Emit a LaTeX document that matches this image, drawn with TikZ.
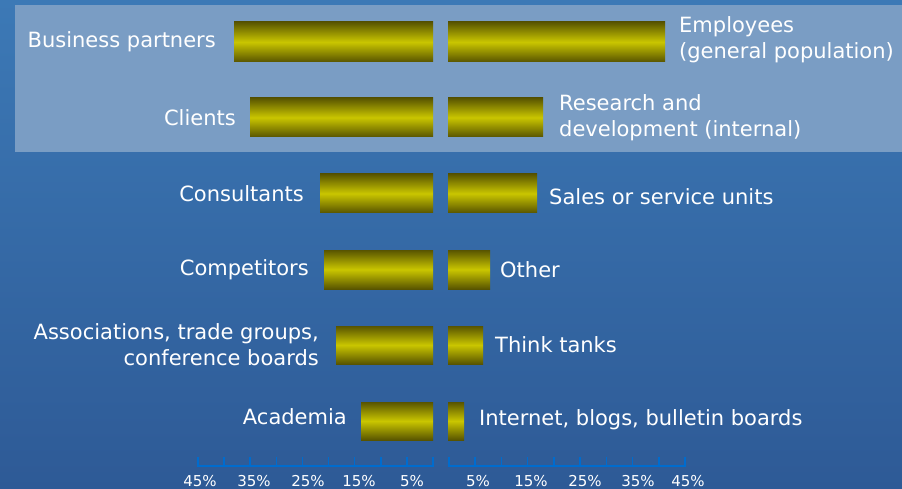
\documentclass[tikz,border=0pt]{standalone}
\usepackage{fontspec}
\setmainfont{DejaVu Sans}
\usetikzlibrary{positioning}
\definecolor{bgtop}{RGB}{60,121,182}
\definecolor{bgbot}{RGB}{46,90,150}
\definecolor{panel}{RGB}{122,157,196}
\definecolor{bardark}{RGB}{88,84,0}
\definecolor{barmid}{RGB}{202,198,0}
\definecolor{axisblue}{RGB}{0,108,206}
\begin{document}
\begin{tikzpicture}[x=1pt,y=-1pt,
  bar/.style={inner sep=0pt, outer sep=0pt, top color=bardark, bottom color=bardark, middle color=barmid, minimum height=39pt},
  lbar/.style={bar, anchor=east},
  rbar/.style={bar, anchor=west},
  lab/.style={text=white, font=\fontsize{21}{26}\selectfont, inner sep=0pt},
  llab/.style={lab, anchor=east, align=right},
  rlab/.style={lab, anchor=west, align=left},
  ticklab/.style={text=white, font=\fontsize{15}{17}\selectfont, inner sep=0pt},
  axisline/.style={draw=axisblue, line width=2.4pt},
  tickline/.style={draw=axisblue, line width=1.6pt}]
\useasboundingbox (0,0) rectangle (902,489);
\shade[top color=bgtop, bottom color=bgbot] (0,0) rectangle (902,489);
\fill[panel] (15,5) rectangle (902,152);
% bars
\node[lbar, minimum width=199pt, minimum height=40pt] (l1) at (433,42) {};
\node[rbar, minimum width=217pt, minimum height=40pt] (r1) at (448,42) {};
\node[lbar, minimum width=183pt] (l2) at (433,117.5) {};
\node[rbar, minimum width=95pt] (r2) at (448,117.5) {};
\node[lbar, minimum width=113pt] (l3) at (433,193.5) {};
\node[rbar, minimum width=89pt] (r3) at (448,193.5) {};
\node[lbar, minimum width=109pt] (l4) at (433,269.5) {};
\node[rbar, minimum width=42pt] (r4) at (448,269.5) {};
\node[lbar, minimum width=97pt, minimum height=38pt] (l5) at (433,345) {};
\node[rbar, minimum width=35pt, minimum height=38pt] (r5) at (448,345) {};
\node[lbar, minimum width=72pt, minimum height=38pt] (l6) at (433,421) {};
\node[rbar, minimum width=16pt, minimum height=38pt] (r6) at (448,421) {};
% labels (yshift is in page direction: positive = up)
\node[llab] (tl1) at ([xshift=-18pt]l1.west) {Business partners};
\node[llab] (tl2) at ([xshift=-14pt]l2.west) {Clients};
\node[llab] (tl3) at ([xshift=-16pt]l3.west) {Consultants};
\node[llab] (tl4) at ([xshift=-15pt]l4.west) {Competitors};
\node[llab] (tl5) at ([xshift=-17pt]l5.west) {Associations, trade groups,\\conference boards};
\node[llab] (tl6) at ([xshift=-14pt,yshift=4pt]l6.west) {Academia};
\node[rlab] (tr1) at ([xshift=14pt,yshift=2pt]r1.east) {Employees\\(general population)};
\node[rlab] (tr2) at ([xshift=16pt]r2.east) {Research and\\development (internal)};
\node[rlab] (tr3) at ([xshift=12pt,yshift=-3.5pt]r3.east) {Sales or service units};
\node[rlab] (tr4) at ([xshift=10pt]r4.east) {Other};
\node[rlab] (tr5) at ([xshift=12pt]r5.east) {Think tanks};
\node[rlab] (tr6) at ([xshift=15pt,yshift=1.5pt]r6.east) {Internet, blogs, bulletin boards};
% axes
\draw[axisline] (198,466) -- (433,466);
\foreach \i in {0,...,9} \draw[tickline] ({198+\i*235/9},467) -- ({198+\i*235/9},457);
\draw[axisline] (449,466) -- (685,466);
\foreach \i in {0,...,9} \draw[tickline] ({449+\i*236/9},467) -- ({449+\i*236/9},457);
\node[ticklab] (a1) at (200,481) {45\%};
\node[ticklab] (a2) at (254,481) {35\%};
\node[ticklab] (a3) at (308,481) {25\%};
\node[ticklab] (a4) at (359,481) {15\%};
\node[ticklab] (a5) at (412,481) {5\%};
\node[ticklab] (b1) at (478,481) {5\%};
\node[ticklab] (b2) at (531,481) {15\%};
\node[ticklab] (b3) at (585,481) {25\%};
\node[ticklab] (b4) at (638,481) {35\%};
\node[ticklab] (b5) at (688,481) {45\%};
\end{tikzpicture}
\end{document}
